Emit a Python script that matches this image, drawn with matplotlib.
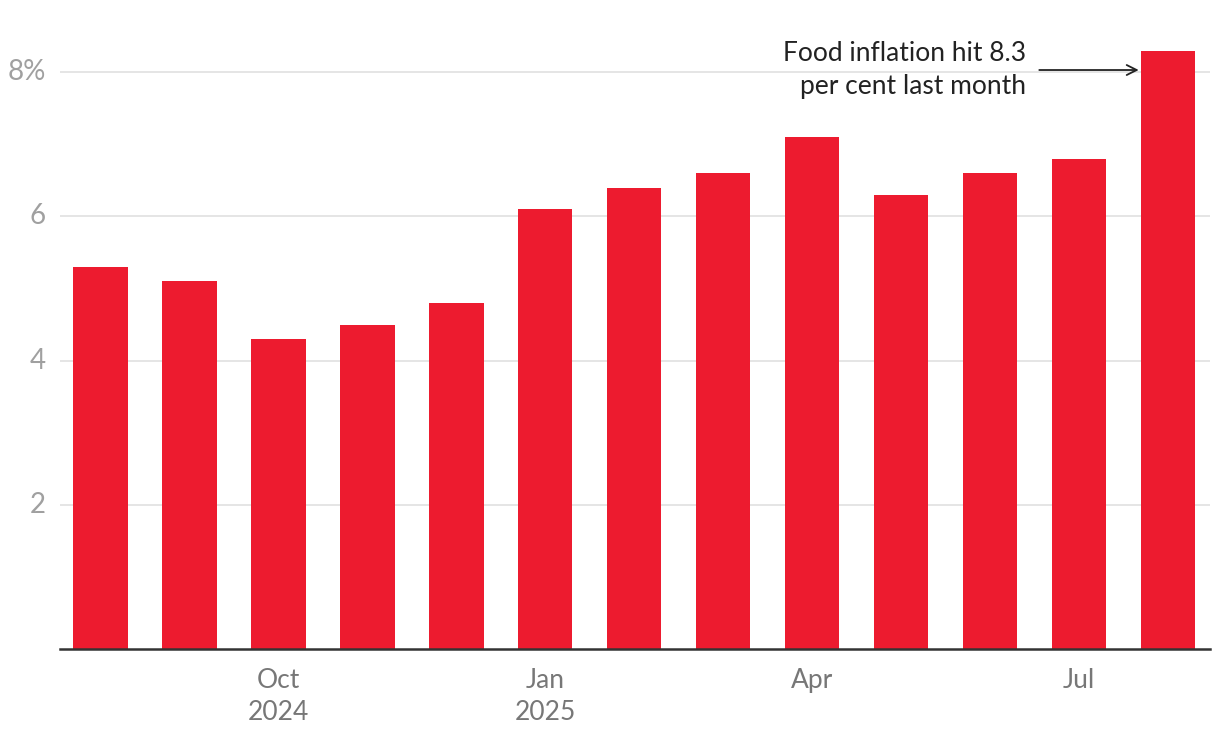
import matplotlib.pyplot as plt
import numpy as np

plt.rcParams['font.family'] = ['Lato', 'DejaVu Sans']

months = ['Aug 2024', 'Sep 2024', 'Oct 2024', 'Nov 2024', 'Dec 2024', 'Jan 2025',
          'Feb 2025', 'Mar 2025', 'Apr 2025', 'May 2025', 'Jun 2025', 'Jul 2025', 'Aug 2025']
food_inflation = [5.3, 5.1, 4.3, 4.5, 4.8, 6.1, 6.4, 6.6, 7.1, 6.3, 6.6, 6.8, 8.3]
tick_idx = [2, 5, 8, 11]
tick_labels = ['Oct\n2024', 'Jan\n2025', 'Apr', 'Jul']
y_ticks = [2, 4, 6, 8]
y_labels = ['2', '4', '6', '8%']

fig = plt.figure(figsize=(12.2, 7.44), dpi=100)
ax = fig.add_axes([60/1220, 1 - 649/744, 1150/1220, 619/744])

x = np.arange(len(months))
ax.bar(x, food_inflation, width=0.61, color='#ED1B2F', zorder=2)

ax.set_xlim(-0.455, 12.47)
ax.set_ylim(0, 8.585)
ax.set_yticks(y_ticks)
ax.set_yticklabels(y_labels)
ax.set_xticks(tick_idx)
ax.set_xticklabels(tick_labels, linespacing=1.35)
ax.grid(axis='y', color='#e3e3e3', linewidth=1.3, zorder=0)
ax.tick_params(axis='y', length=0, pad=10, labelsize=20, labelcolor='#a0a0a0')
ax.tick_params(axis='x', length=0, pad=14, labelsize=19, labelcolor='#777777')
for lbl in ax.get_yticklabels():
    lbl.set_verticalalignment('center')
for s in ['top', 'right', 'left']:
    ax.spines[s].set_visible(False)
ax.spines['bottom'].set_color('#333333')
ax.spines['bottom'].set_linewidth(1.8)
ax.spines['bottom'].set_zorder(3)

ax.annotate('', xy=(11.7, 8.03), xytext=(10.52, 8.03),
            arrowprops=dict(arrowstyle='->', color='#222222', lw=1.3, mutation_scale=18))
ax.text(10.4, 8.03, 'Food inflation hit 8.3\nper cent last month', ha='right', va='center',
        fontsize=19, color='#222222', linespacing=1.4)

fig.savefig('out.png', dpi=100)
